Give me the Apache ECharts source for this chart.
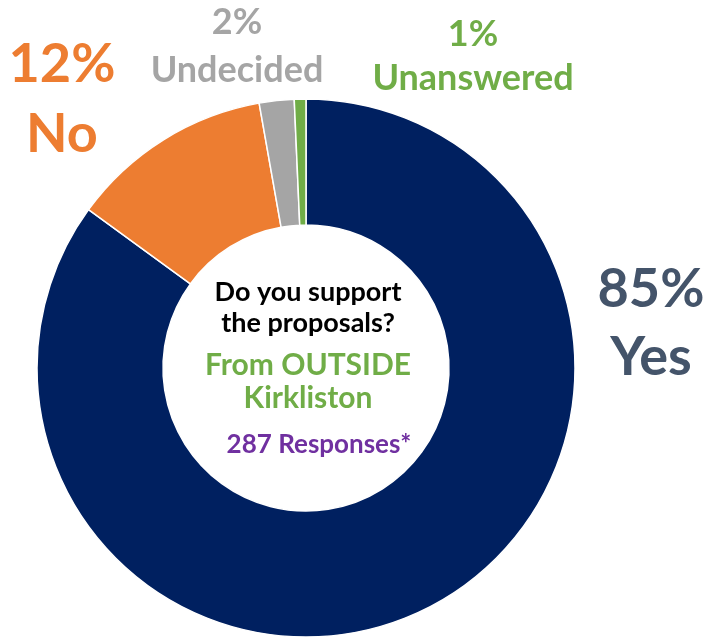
<!DOCTYPE html>
<html>
<head>
<meta charset="utf-8">
<script src="https://cdn.jsdelivr.net/npm/echarts@6/dist/echarts.min.js"></script>
<style>
  html, body { margin: 0; padding: 0; background: #fff; }
  #main { width: 708px; height: 639px; }
</style>
</head>
<body>
<div id="main"></div>
<script>
// answers and number of responses (287 in total)
var answers = ['Yes', 'No', 'Undecided', 'Unanswered'];
var responses = [244, 35, 6, 2];
var centreLines = ['Do you support', 'the proposals?', 'From OUTSIDE', 'Kirkliston', '287 Responses*'];

// look of each slice / label
var sliceColors = ['#002060', '#ED7D31', '#A5A5A5', '#70AD47'];
var labelColors = ['#44546A', '#ED7D31', '#A5A5A5', '#70AD47'];
var labelFont = [54, 54, 36, 36];
var labelGap = [68, 70, 48, 44];
var labelPos = [[651, 324], [62, 100], [237, 46], [473, 56]];

var FONT = 'Lato, "Open Sans", sans-serif';

var chartDom = document.getElementById('main');
var myChart = echarts.init(chartDom);

var pieData = answers.map(function (name, i) {
    return {
        name: name,
        value: responses[i],
        itemStyle: { color: sliceColors[i] },
        label: {
            color: labelColors[i],
            rich: {
                p: { fontSize: labelFont[i], fontWeight: 'bold', color: labelColors[i], lineHeight: labelGap[i], fontFamily: FONT },
                n: { fontSize: labelFont[i], fontWeight: 'bold', color: labelColors[i], lineHeight: labelGap[i], fontFamily: FONT }
            }
        }
    };
});

// centre text
var centreStyle = [
    { color: '#000000', size: 27, y: 292 },
    { color: '#000000', size: 27, y: 323 },
    { color: '#70AD47', size: 30, y: 365 },
    { color: '#70AD47', size: 30, y: 398 },
    { color: '#7030A0', size: 26, y: 445 }
];
var centreText = centreLines.map(function (t, i) {
    return {
        type: 'text',
        x: i === 4 ? 319 : 308,
        y: centreStyle[i].y,
        style: {
            text: t,
            fill: centreStyle[i].color,
            font: 'bold ' + centreStyle[i].size + 'px ' + FONT,
            align: 'center',
            verticalAlign: 'middle'
        }
    };
});

var option = {
    backgroundColor: '#ffffff',
    animation: false,
    graphic: centreText,
    series: [{
        type: 'pie',
        center: [306, 368],
        radius: [143, 269],
        startAngle: 90,
        clockwise: true,
        percentPrecision: 0,
        avoidLabelOverlap: false,
        itemStyle: { borderColor: '#ffffff', borderWidth: 1.5 },
        label: {
            show: true,
            position: 'outside',
            formatter: '{p|{d}%}\n{n|{b}}'
        },
        labelLine: { show: false },
        labelLayout: function (params) {
            var pos = labelPos[params.dataIndex];
            return { x: pos[0], y: pos[1], align: 'center', verticalAlign: 'middle' };
        },
        emphasis: { disabled: true },
        data: pieData
    }]
};

option && myChart.setOption(option);
</script>
</body>
</html>
